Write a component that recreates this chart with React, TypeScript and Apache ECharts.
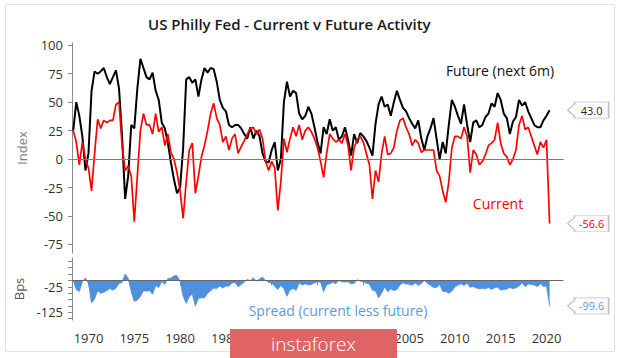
import React, { useEffect, useRef } from "react";
import * as echarts from "echarts";

// one reading every four months, May 1968 .. Apr 2020
const START = 1968 + 4 / 12;
const STEP = 1 / 3;

// Philly Fed "Future activity (next 6m)" index
const futureVals = [
  25, 50, // 1968
  38, 20, -10, // 1969
  5, 60, 77, // 1970
  75, 77, 80, // 1971
  72, 66, 72, // 1972
  78, 62, 20, // 1973
  -35, -15, 30, // 1974
  27, 62, 88, // 1975
  80, 72, 70, // 1976
  76, 60, 52, // 1977
  32, 27, 14, // 1978
  -3, -18, -30, // 1979
  -25, 10, 70, // 1980
  72, 67, 70, // 1981
  55, 70, 80, // 1982
  76, 80, 79, // 1983
  68, 52, 45, // 1984
  42, 30, 28, // 1985
  30, 30, 27, // 1986
  22, 18, 28, // 1987
  18, 25, 20, // 1988
  5, -2, -3, // 1989
  8, 15, -10, // 1990
  0, 50, 68, // 1991
  55, 60, 58, // 1992
  40, 35, 38, // 1993
  46, 40, 28, // 1994
  15, 5, 28, // 1995
  22, 35, 25, // 1996
  28, 17, 20, // 1997
  28, 17, 3, // 1998
  22, 14, 23, // 1999
  20, 16, 10, // 2000
  3, 31, 48, // 2001
  55, 46, 48, // 2002
  38, 50, 60, // 2003
  52, 45, 42, // 2004
  36, 31, 27, // 2005
  34, 18, 8, // 2006
  20, 27, 36, // 2007
  18, 0, 15, // 2008
  5, 30, 52, // 2009
  46, 38, 31, // 2010
  48, 30, 15, // 2011
  32, 34, 28, // 2012
  30, 37, 40, // 2013
  49, 46, 58, // 2014
  52, 40, 36, // 2015
  22, 33, 37, // 2016
  52, 47, 50, // 2017
  42, 36, 30, // 2018
  28, 28, 34, // 2019
  38, 43.0, // 2020
];

// Philly Fed "Current activity" index
const currentVals = [
  25, 15, // 1968
  -5, 15, 0, // 1969
  -8, -28, 5, // 1970
  35, 27, 34, // 1971
  32, 34, 34, // 1972
  48, 50, 12, // 1973
  -10, -6, -15, // 1974
  -55, -15, 25, // 1975
  40, 30, 30, // 1976
  22, 40, 24, // 1977
  28, 12, 22, // 1978
  6, 0, -12, // 1979
  -28, -52, -20, // 1980
  8, 14, -30, // 1981
  -15, 2, 12, // 1982
  25, 40, 49, // 1983
  36, 30, 15, // 1984
  20, 8, 18, // 1985
  22, 5, 11, // 1986
  16, 22, 27, // 1987
  28, 22, 26, // 1988
  18, -2, -10, // 1989
  -2, -8, -45, // 1990
  -20, 18, 6, // 1991
  18, 28, 20, // 1992
  30, 17, 25, // 1993
  28, 24, 18, // 1994
  10, -2, -16, // 1995
  5, 22, 18, // 1996
  15, 17, 14, // 1997
  22, 12, -10, // 1998
  10, 17, 20, // 1999
  15, 5, -5, // 2000
  -35, -10, -20, // 2001
  5, 20, 4, // 2002
  5, 10, 25, // 2003
  34, 36, 28, // 2004
  22, 12, 17, // 2005
  14, 6, 8, // 2006
  8, 8, 8, // 2007
  -10, -15, -28, // 2008
  -38, -20, 10, // 2009
  20, 20, 18, // 2010
  28, 20, -12, // 2011
  8, 4, -5, // 2012
  -2, 4, 12, // 2013
  14, 17, 32, // 2014
  14, 5, 2, // 2015
  -5, 0, 8, // 2016
  30, 38, 26, // 2017
  28, 20, 12, // 2018
  4, 15, 10, // 2019
  17, -56.6, // 2020
];

const yearTicks = [1970, 1975, 1980, 1985, 1990, 1995, 2000, 2005, 2010, 2015, 2020];
// 1990-2000 labels sit under the watermark in the reference
const yearLabels = [1970, 1975, 1980, 1985, 2005, 2010, 2015, 2020];
const indexTicks = [-75, -50, -25, 0, 25, 50, 75, 100];
const bpsTicks = [-150, -125, -100, -75, -50, -25, 0, 25, 50, 75];
const bpsLabels = [-125, -25];

const FONT = "Open Sans";
const BLUE = "#4f8fdc";
const CALLOUT = "path://M0,8L7,2L7,0L41,0L41,16L7,16L7,14Z";

export default function App() {
  const ref = useRef<HTMLDivElement>(null);

  useEffect(() => {
    const chart = echarts.init(ref.current!, null, { renderer: "svg" });
    const dates = futureVals.map((_, i) => +(START + i * STEP).toFixed(3));
    const future = dates.map((d, i) => [d, futureVals[i]]);
    const current = dates.map((d, i) => [d, currentVals[i]]);
    const spread = dates.map((d, i) => [d, +(currentVals[i] - futureVals[i]).toFixed(1)]);
    const last = dates.length - 1;

    const callout = (coord: number[], value: number, color: string) => ({
      symbol: CALLOUT,
      symbolSize: [41, 16],
      symbolOffset: [38.5, 0],
      silent: true,
      itemStyle: { color: "#fff", borderColor: "#bdbdbd", borderWidth: 1 },
      label: {
        show: true,
        position: "inside",
        offset: [3.5, 0],
        color,
        fontFamily: FONT,
        fontSize: 11,
        formatter: () => value.toFixed(1),
      },
      data: [{ coord, value }],
    });

    const zeroLine = {
      silent: true,
      symbol: "none",
      label: { show: false },
      lineStyle: { color: "#7a7a7a", width: 1, type: "solid" },
      data: [{ yAxis: 0 }],
    };

    const xBase = { type: "value", min: 1968.2, max: 2021.8, splitLine: { show: false } };

    chart.setOption({
      animation: false,
      backgroundColor: "#fff",
      textStyle: { fontFamily: FONT },
      title: {
        text: "US Philly Fed - Current v Future Activity",
        left: 143,
        top: 11,
        textStyle: { fontFamily: FONT, fontSize: 15, fontWeight: 600, color: "#1a1a1a" },
      },
      grid: [
        { left: 72, right: 57, top: 43, height: 210 },
        { left: 72, right: 57, top: 258, height: 62 },
      ],
      xAxis: [
        {
          ...xBase,
          gridIndex: 0,
          axisLine: { show: true, lineStyle: { color: "#5a5a5a", width: 1.2 } },
          axisTick: { show: false },
          axisLabel: { show: false },
        },
        {
          ...xBase,
          gridIndex: 1,
          axisLine: { show: true, lineStyle: { color: "#8a8a8a" } },
          axisTick: { show: true, length: 5, customValues: yearTicks, lineStyle: { color: "#8a8a8a" } },
          axisLabel: {
            show: true,
            customValues: yearLabels,
            formatter: (v: number) => String(v),
            fontFamily: FONT,
            fontSize: 13,
            color: "#333",
            margin: 11,
          },
        },
      ],
      yAxis: [
        {
          type: "value",
          gridIndex: 0,
          min: -82.5,
          max: 102,
          splitLine: { show: false },
          axisLine: { show: true, lineStyle: { color: "#8a8a8a" } },
          axisTick: { show: true, length: 4, customValues: indexTicks, lineStyle: { color: "#8a8a8a" } },
          axisLabel: {
            customValues: indexTicks,
            fontFamily: FONT,
            fontSize: 13,
            color: "#333",
            margin: 9,
          },
          name: "Index",
          nameLocation: "middle",
          nameGap: 44,
          nameTextStyle: { fontFamily: FONT, fontSize: 13, color: "#808080" },
        },
        {
          type: "value",
          gridIndex: 1,
          min: -155,
          max: 88,
          splitLine: { show: false },
          axisLine: { show: true, lineStyle: { color: "#8a8a8a" } },
          axisTick: { show: true, length: 4, customValues: bpsTicks, lineStyle: { color: "#8a8a8a" } },
          axisLabel: {
            customValues: bpsLabels,
            fontFamily: FONT,
            fontSize: 13,
            color: "#333",
            margin: 9,
          },
          name: "Bps",
          nameLocation: "middle",
          nameGap: 44,
          nameTextStyle: { fontFamily: FONT, fontSize: 13, color: "#555" },
        },
      ],
      series: [
        {
          name: "Future (next 6m)",
          type: "line",
          xAxisIndex: 0,
          yAxisIndex: 0,
          data: future,
          showSymbol: false,
          lineStyle: { color: "#000", width: 2 },
          itemStyle: { color: "#000" },
          markLine: zeroLine,
          markPoint: callout(future[last], futureVals[last], "#222"),
          z: 3,
        },
        {
          name: "Current",
          type: "line",
          xAxisIndex: 0,
          yAxisIndex: 0,
          data: current,
          showSymbol: false,
          lineStyle: { color: "#ff0000", width: 1.7 },
          itemStyle: { color: "#ff0000" },
          markPoint: callout(current[last], currentVals[last], "#ff0000"),
          z: 4,
        },
        {
          name: "Spread (current less future)",
          type: "line",
          xAxisIndex: 1,
          yAxisIndex: 1,
          data: spread,
          showSymbol: false,
          lineStyle: { color: BLUE, width: 0.8 },
          itemStyle: { color: BLUE },
          areaStyle: { color: BLUE, opacity: 1 },
          markLine: { ...zeroLine, lineStyle: { color: "#666", width: 1, type: "solid" } },
          markPoint: callout(spread[last], spread[last][1], "#5a9ae0"),
          z: 3,
        },
      ],
      graphic: [
        {
          type: "rect",
          z: -10,
          silent: true,
          shape: { x: 5.5, y: 4.5, width: 609, height: 347 },
          style: { fill: "none", stroke: "#e2e2e2", lineWidth: 1 },
        },
        {
          type: "text",
          x: 500,
          y: 70,
          style: {
            text: "Future (next 6m)",
            fill: "#111",
            font: `14px "${FONT}"`,
            textAlign: "center",
            textVerticalAlign: "middle",
          },
        },
        {
          type: "text",
          x: 498,
          y: 203,
          style: {
            text: "Current",
            fill: "#ff0000",
            font: `14px "${FONT}"`,
            textAlign: "center",
            textVerticalAlign: "middle",
          },
        },
        {
          type: "text",
          x: 338,
          y: 310,
          style: {
            text: "Spread (current less future)",
            fill: "#5a9ae0",
            font: `14px "${FONT}"`,
            textAlign: "center",
            textVerticalAlign: "middle",
          },
        },
        {
          type: "rect",
          z: 100,
          zlevel: 1,
          shape: { x: 230, y: 329, width: 167, height: 29 },
          style: { fill: "#e06464" },
        },
        {
          type: "text",
          z: 101,
          zlevel: 1,
          x: 313.5,
          y: 344,
          style: {
            text: "instaforex",
            fill: "#fff",
            font: `300 19px "${FONT}"`,
            textAlign: "center",
            textVerticalAlign: "middle",
          },
        },
      ],
    });

    return () => chart.dispose();
  }, []);

  return (
    <div
      ref={ref}
      style={{ position: "fixed", left: 0, top: 0, width: 620, height: 358, background: "#fff" }}
    />
  );
}
